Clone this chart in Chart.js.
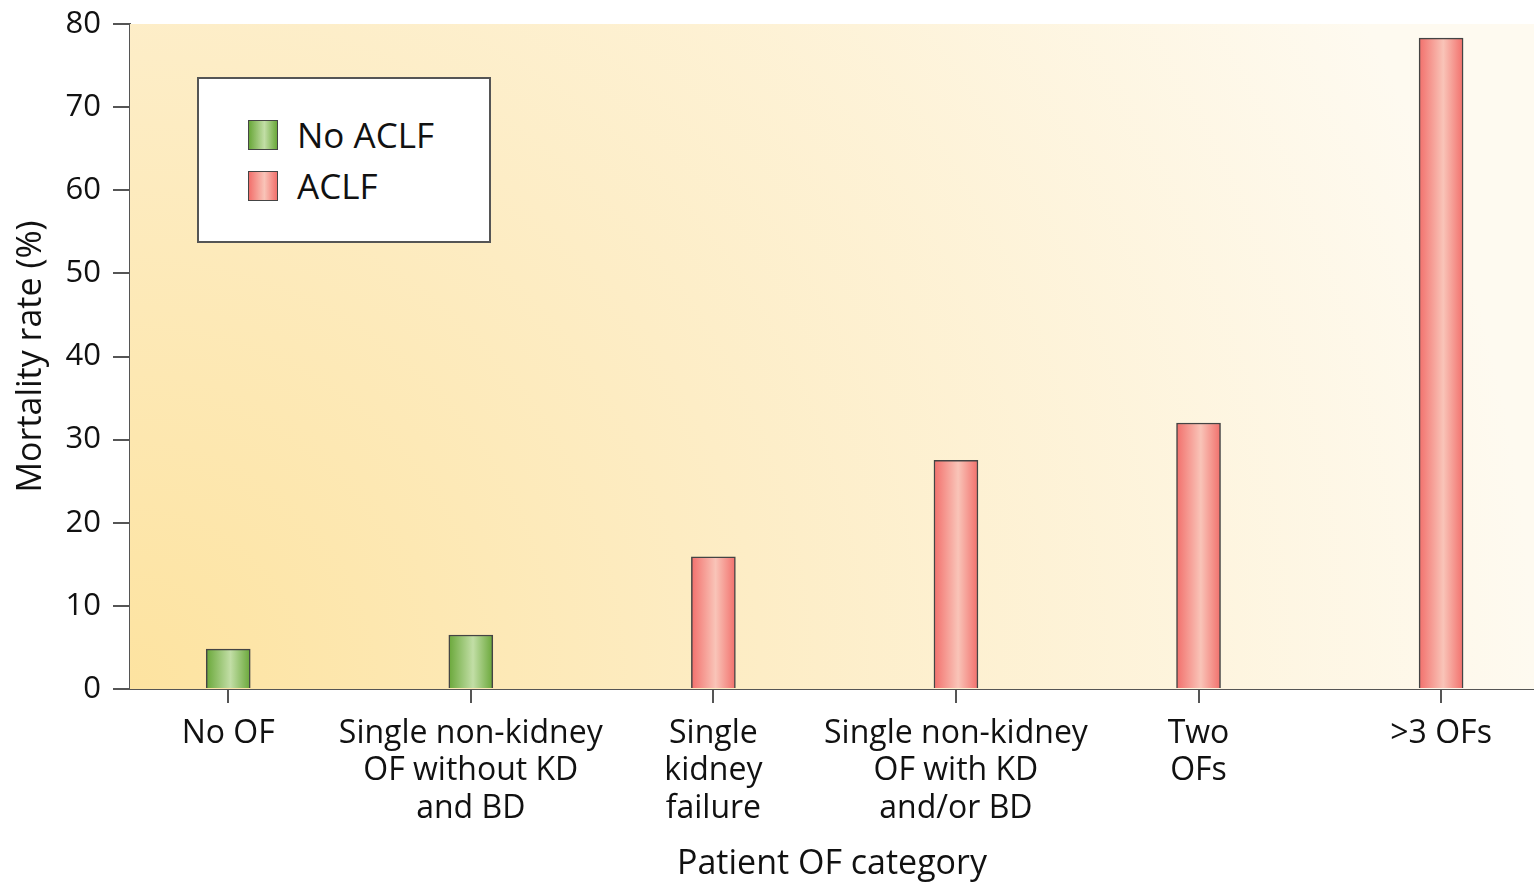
<!DOCTYPE html>
<html>
<head>
<meta charset="utf-8">
<script src="https://cdn.jsdelivr.net/npm/chart.js@4/dist/chart.umd.min.js"></script>
<style>
  html, body { margin: 0; padding: 0; background: #fff; }
  #wrap { position: relative; width: 1534px; height: 885px; }
  #legend {
    position: absolute; left: 197px; top: 77px; width: 290px; height: 162px;
    background: #fff; border: 2px solid #555; font-family: 'Open Sans', sans-serif;
    font-size: 35px; color: #111;
  }
  .item { position: absolute; left: 49px; height: 40px; line-height: 40px; display: flex; align-items: center; }
  .sw { width: 28px; height: 28px; border: 1.5px solid #444; margin-right: 19px; }
</style>
</head>
<body>
<div id="wrap">
  <canvas id="chart" width="1534" height="885"></canvas>
  <div id="legend"></div>
</div>
<script>
const categories = [
  ['No OF'],
  ['Single non-kidney', 'OF without KD', 'and BD'],
  ['Single', 'kidney', 'failure'],
  ['Single non-kidney', 'OF with KD', 'and/or BD'],
  ['Two', 'OFs'],
  ['>3 OFs'],
];
const noAclfValues = [4.8, 6.5, null, null, null, null];
const aclfValues = [null, null, 15.9, 27.5, 32.0, 78.3];
const yTicks = [0, 10, 20, 30, 40, 50, 60, 70, 80];

const fontFamily = "'Open Sans', sans-serif";
const axisColor = '#555';

const greenStops = ['#6aa83a', '#c2dea6', '#6aa83a'];
const redStops = ['#f2706c', '#f9c4b8', '#f2706c'];

function barGradient(stops, fallback) {
  return (ctx) => {
    const chart = ctx.chart;
    const x = chart.scales.x;
    if (!x || !chart.chartArea) return fallback;
    const px = x.getPixelForValue(ctx.dataIndex);
    const g = chart.ctx.createLinearGradient(px - 22, 0, px + 22, 0);
    g.addColorStop(0, stops[0]);
    g.addColorStop(0.55, stops[1]);
    g.addColorStop(1, stops[2]);
    return g;
  };
}

const backgroundPlugin = {
  id: 'plotBackground',
  beforeDatasetsDraw(chart) {
    const { ctx, chartArea: a } = chart;
    const g = ctx.createRadialGradient(a.left, a.bottom, 0, a.left, a.bottom, a.right - a.left);
    g.addColorStop(0, '#fde3a0');
    g.addColorStop(0.45, '#fdedc6');
    g.addColorStop(1, '#fefaf0');
    ctx.save();
    ctx.fillStyle = g;
    ctx.fillRect(a.left, a.top, a.right - a.left, a.bottom - a.top);
    ctx.restore();
  },
};

const chart = new Chart(document.getElementById('chart'), {
  type: 'bar',
  data: {
    datasets: [
      {
        label: 'No ACLF',
        data: noAclfValues.map((v, i) => ({ x: i, y: v })),
        backgroundColor: barGradient(greenStops, '#8cc060'),
        swatch: greenStops,
      },
      {
        label: 'ACLF',
        data: aclfValues.map((v, i) => ({ x: i, y: v })),
        backgroundColor: barGradient(redStops, '#f49088'),
        swatch: redStops,
      },
    ],
  },
  options: {
    responsive: false,
    animation: false,
    layout: { padding: 0 },
    datasets: {
      bar: { grouped: false, barThickness: 44, borderColor: '#444', borderWidth: 1.5, borderSkipped: 'bottom' },
    },
    plugins: { legend: { display: false }, tooltip: { enabled: false } },
    scales: {
      x: {
        type: 'linear',
        offset: false,
        min: -0.405,
        max: 5.383,
        afterBuildTicks: (scale) => { scale.ticks = categories.map((_, i) => ({ value: i })); },
        afterFit: (scale) => { scale.height = 196; scale.paddingRight = 0; scale.paddingLeft = 0; },
        ticks: {
          autoSkip: false,
          maxRotation: 0,
          padding: 12,
          color: '#111',
          font: { family: fontFamily, size: 32, lineHeight: 1.17 },
          callback: (v) => categories[v],
        },
        grid: { offset: false, drawOnChartArea: false, drawTicks: true, tickLength: 14, color: axisColor, lineWidth: 2 },
        border: { display: true, color: axisColor, width: 2 },
        title: {
          display: true,
          text: 'Patient OF category',
          color: '#111',
          font: { family: fontFamily, size: 34 },
          padding: { top: 0, bottom: 0 },
        },
      },
      y: {
        min: 0,
        max: 80,
        afterBuildTicks: (scale) => { scale.ticks = yTicks.map((v) => ({ value: v })); },
        afterFit: (scale) => { scale.width = 130; scale.paddingTop = 24; },
        ticks: {
          padding: 12,
          color: '#111',
          font: { family: fontFamily, size: 31 },
        },
        grid: { drawOnChartArea: false, drawTicks: true, tickLength: 17, color: axisColor, lineWidth: 2 },
        border: { display: true, color: axisColor, width: 2 },
        title: {
          display: true,
          text: 'Mortality rate (%)',
          color: '#111',
          font: { family: fontFamily, size: 34 },
          padding: { top: 11, bottom: 0 },
        },
      },
    },
  },
  plugins: [backgroundPlugin],
});

// legend box drawn as html, fed from the chart datasets
const legendEl = document.getElementById('legend');
chart.data.datasets.forEach((ds, i) => {
  const item = document.createElement('div');
  item.className = 'item';
  item.style.top = (36 + i * 51) + 'px';
  const sw = document.createElement('span');
  sw.className = 'sw';
  sw.style.background = `linear-gradient(to right, ${ds.swatch[0]}, ${ds.swatch[1]} 55%, ${ds.swatch[2]})`;
  const label = document.createElement('span');
  label.textContent = ds.label;
  item.appendChild(sw);
  item.appendChild(label);
  legendEl.appendChild(item);
});
</script>
</body>
</html>
